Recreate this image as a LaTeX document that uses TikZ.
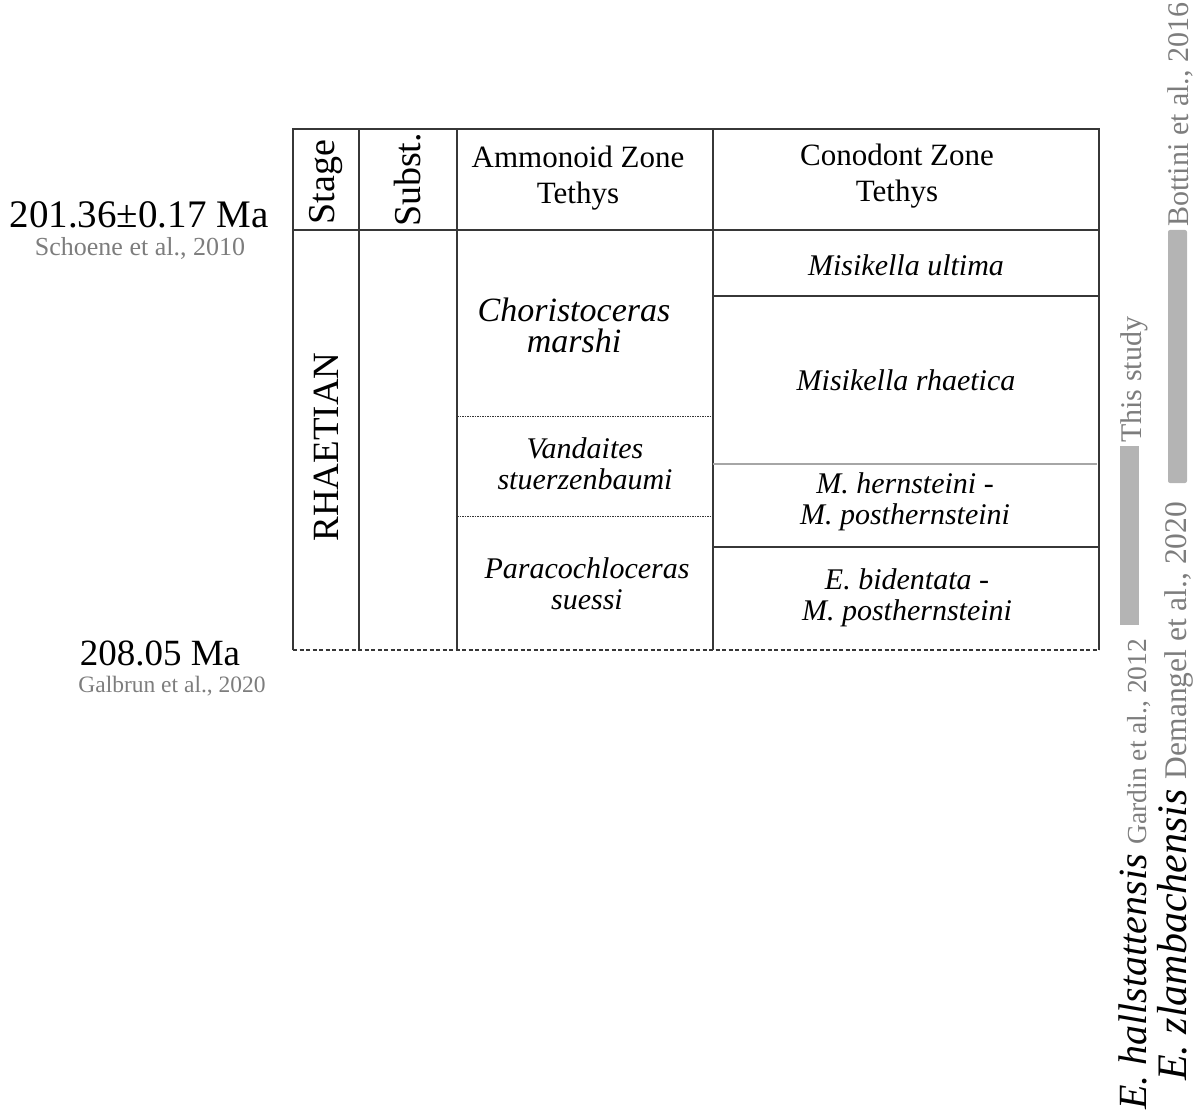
\documentclass[tikz,border=0pt]{standalone}
\usepackage{fontspec}
\setmainfont{Liberation Serif}
\usepackage{tikz}
\usetikzlibrary{positioning}
\definecolor{RuleGray}{RGB}{55,55,55}
\definecolor{CiteGray}{RGB}{125,125,125}
\definecolor{BarGray}{RGB}{180,180,180}

\begin{document}
\begin{tikzpicture}[x=1pt, y=-1pt,
    rule/.style={draw=RuleGray, line width=1.4pt},
    dotrule/.style={draw=RuleGray, line width=0.9pt, dash pattern=on 1.5pt off 1pt},
    baserule/.style={draw=RuleGray, line width=1.4pt, dash pattern=on 4pt off 2.5pt},
    head/.style={font=\fontsize{31}{36}\selectfont, align=center, inner sep=0pt},
    vhead/.style={font=\fontsize{38}{40}\selectfont, rotate=90, inner sep=0pt},
    zone/.style={font=\fontsize{30}{31}\selectfont\itshape, align=center, inner sep=0pt},
    agebox/.style={font=\fontsize{37}{40}\selectfont, anchor=base, inner sep=0pt},
    cite/.style={font=\fontsize{26}{28}\selectfont, text=CiteGray, anchor=base, inner sep=0pt},
    vcite/.style={font=\fontsize{30}{32}\selectfont, text=CiteGray, rotate=90, anchor=base west, inner sep=0pt},
    taxon/.style={rotate=90, anchor=base west, inner sep=0pt},
    bar/.style={fill=BarGray, draw=none}
]
    \useasboundingbox (0,0) rectangle (1194,1115);

    % table frame
    \draw[rule] (293,650) -- (293,129) -- (1099,129) -- (1099,650);
    \draw[rule] (293,230) -- (1099,230);
    \foreach \x in {359,457,713}
        \draw[rule] (\x,129) -- (\x,650);
    \draw[rule] (713,296) -- (1099,296);
    \draw[rule, draw=gray!70] (713,464) -- (1097,464);
    \draw[rule] (713,547) -- (1099,547);
    \draw[dotrule] (457,416) -- (710,416);
    \draw[dotrule] (457,516) -- (713,516);
    \draw[baserule] (293,650) -- (1099,650);

    % headers
    \node[vhead] (stage) at (326,182) {Stage};
    \node[vhead] (subst) at (408,180) {Subst.};
    \node[head] (ammhead) at (578,178) {Ammonoid Zone\\Tethys};
    \node[head] (conhead) at (897,176) {Conodont Zone\\Tethys};
    \node[vhead, font=\fontsize{37}{40}\selectfont] (rhaetian) at (326,447) {RHAETIAN};

    % ammonoid zones
    \node[zone, font=\fontsize{34}{31}\selectfont\itshape] (marshi) at (574,325) {Choristoceras\\marshi};
    \node[zone] (vandaites) at (585,464) {Vandaites\\stuerzenbaumi};
    \node[zone] (suessi) at (587,584) {Paracochloceras\\suessi};

    % conodont zones
    \node[zone] (ultima) at (906,265) {Misikella ultima};
    \node[zone] (rhaetica) at (906,380) {Misikella rhaetica};
    \node[zone] (hernsteini) at (905,502) {M. hernsteini -\\M. posthernsteini};
    \node[zone] (bidentata) at (907,598) {E. bidentata -\\M. posthernsteini};

    % ages
    \node[agebox, font=\fontsize{39}{40}\selectfont] (topage) at (139,228) {201.36±0.17 Ma};
    \node[cite] (schoene) at (140,256) {Schoene et al., 2010};
    \node[agebox] (baseage) at (160,665) {208.05 Ma};
    \node[cite, font=\fontsize{23.5}{26}\selectfont] (galbrun) at (172,692) {Galbrun et al., 2020};

    % ranges
    \fill[bar] (1120,446) rectangle (1139,625);
    \fill[bar, rounded corners=2pt] (1168,483) -- (1168,230) -- (1187,230) -- (1187,483) -- cycle;
    \node[vcite] (thisstudy) at (1141,443) {This study};
    \node[vcite] (bottini) at (1188,227) {Bottini et al., 2016};
    \node[taxon] (hall) at (1146,1110) {{\fontsize{40}{42}\selectfont\itshape E. hallstattensis}\hspace*{10pt}{\color{CiteGray}\fontsize{27.5}{30}\selectfont Gardin et al., 2012}};
    \node[taxon] (zlamb) at (1186,1081) {{\fontsize{42}{43}\selectfont\itshape E. zlambachensis}\hspace*{10pt}{\color{CiteGray}\fontsize{31.5}{34}\selectfont Demangel et al., 2020}};
\end{tikzpicture}
\end{document}
